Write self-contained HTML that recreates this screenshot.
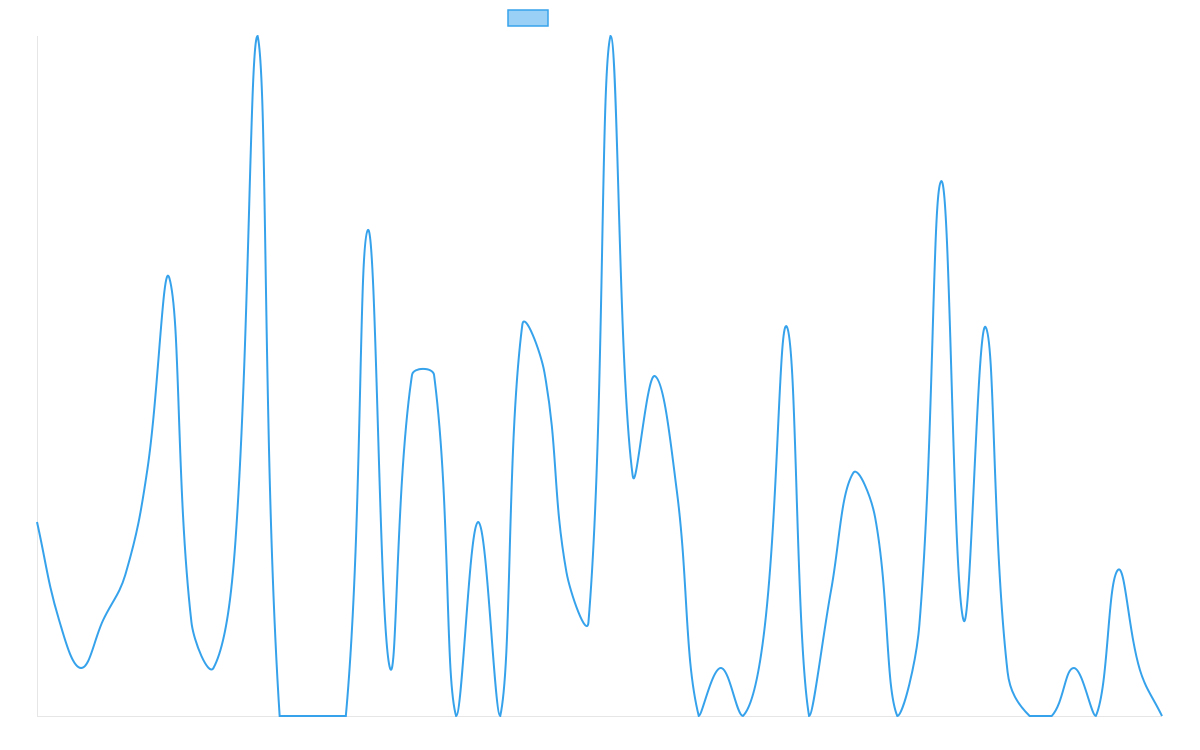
<!DOCTYPE html>
<html><head><meta charset="utf-8"><style>
html,body{margin:0;padding:0;background:#fff;width:1200px;height:750px;overflow:hidden}
svg{display:block}
</style></head><body>
<svg id="s" width="1200" height="750" xmlns="http://www.w3.org/2000/svg">
<line x1="37.5" y1="36" x2="37.5" y2="716" stroke="#e6e6e6" stroke-width="1"/>
<line x1="37" y1="716.5" x2="1162" y2="716.5" stroke="#e6e6e6" stroke-width="1"/>
<rect x="508" y="10" width="40" height="16" fill="rgba(54,162,235,0.5)" stroke="#36A2EB" stroke-width="1.5"/>
<path id="p" d="" fill="none" stroke="#36A2EB" stroke-width="2"/>
</svg>
<script>
var ys=[522,620,668,620,575,470,278,622,668,540,36,716,716,716,716,230,668,375,375,716,522,716,325,372,572,622,36,475,376,490,716,668,716,625,327,716,590,473,518,716,625,181,620,327,672,716,716,668,716,570,670,716];
var n=ys.length,x0=37,x1=1162,P=[];
for(var i=0;i<n;i++)P.push({x:x0+(x1-x0)*i/(n-1),y:ys[i]});
var T=0.4,cps=[];
function cl(v,a,b){return Math.max(a,Math.min(b,v));}
for(i=0;i<n;i++){
 var pr=P[i-1]||P[i],c=P[i],nx=P[i+1]||P[i];
 var d01=Math.hypot(c.x-pr.x,c.y-pr.y),d12=Math.hypot(nx.x-c.x,nx.y-c.y);
 var s01=d01/(d01+d12),s12=d12/(d01+d12);
 if(isNaN(s01))s01=0;if(isNaN(s12))s12=0;
 var fa=T*s01,fb=T*s12;
 cps.push({px:cl(c.x-fa*(nx.x-pr.x),37,1162),py:cl(c.y-fa*(nx.y-pr.y),36,716),
           nx:cl(c.x+fb*(nx.x-pr.x),37,1162),ny:cl(c.y+fb*(nx.y-pr.y),36,716)});
}
var s="M"+P[0].x+","+P[0].y;
for(i=0;i<n-1;i++){
 s+=" C"+cps[i].nx+","+cps[i].ny+" "+cps[i+1].px+","+cps[i+1].py+" "+P[i+1].x+","+P[i+1].y;
}
document.getElementById("p").setAttribute("d",s);
</script>
</body></html>
